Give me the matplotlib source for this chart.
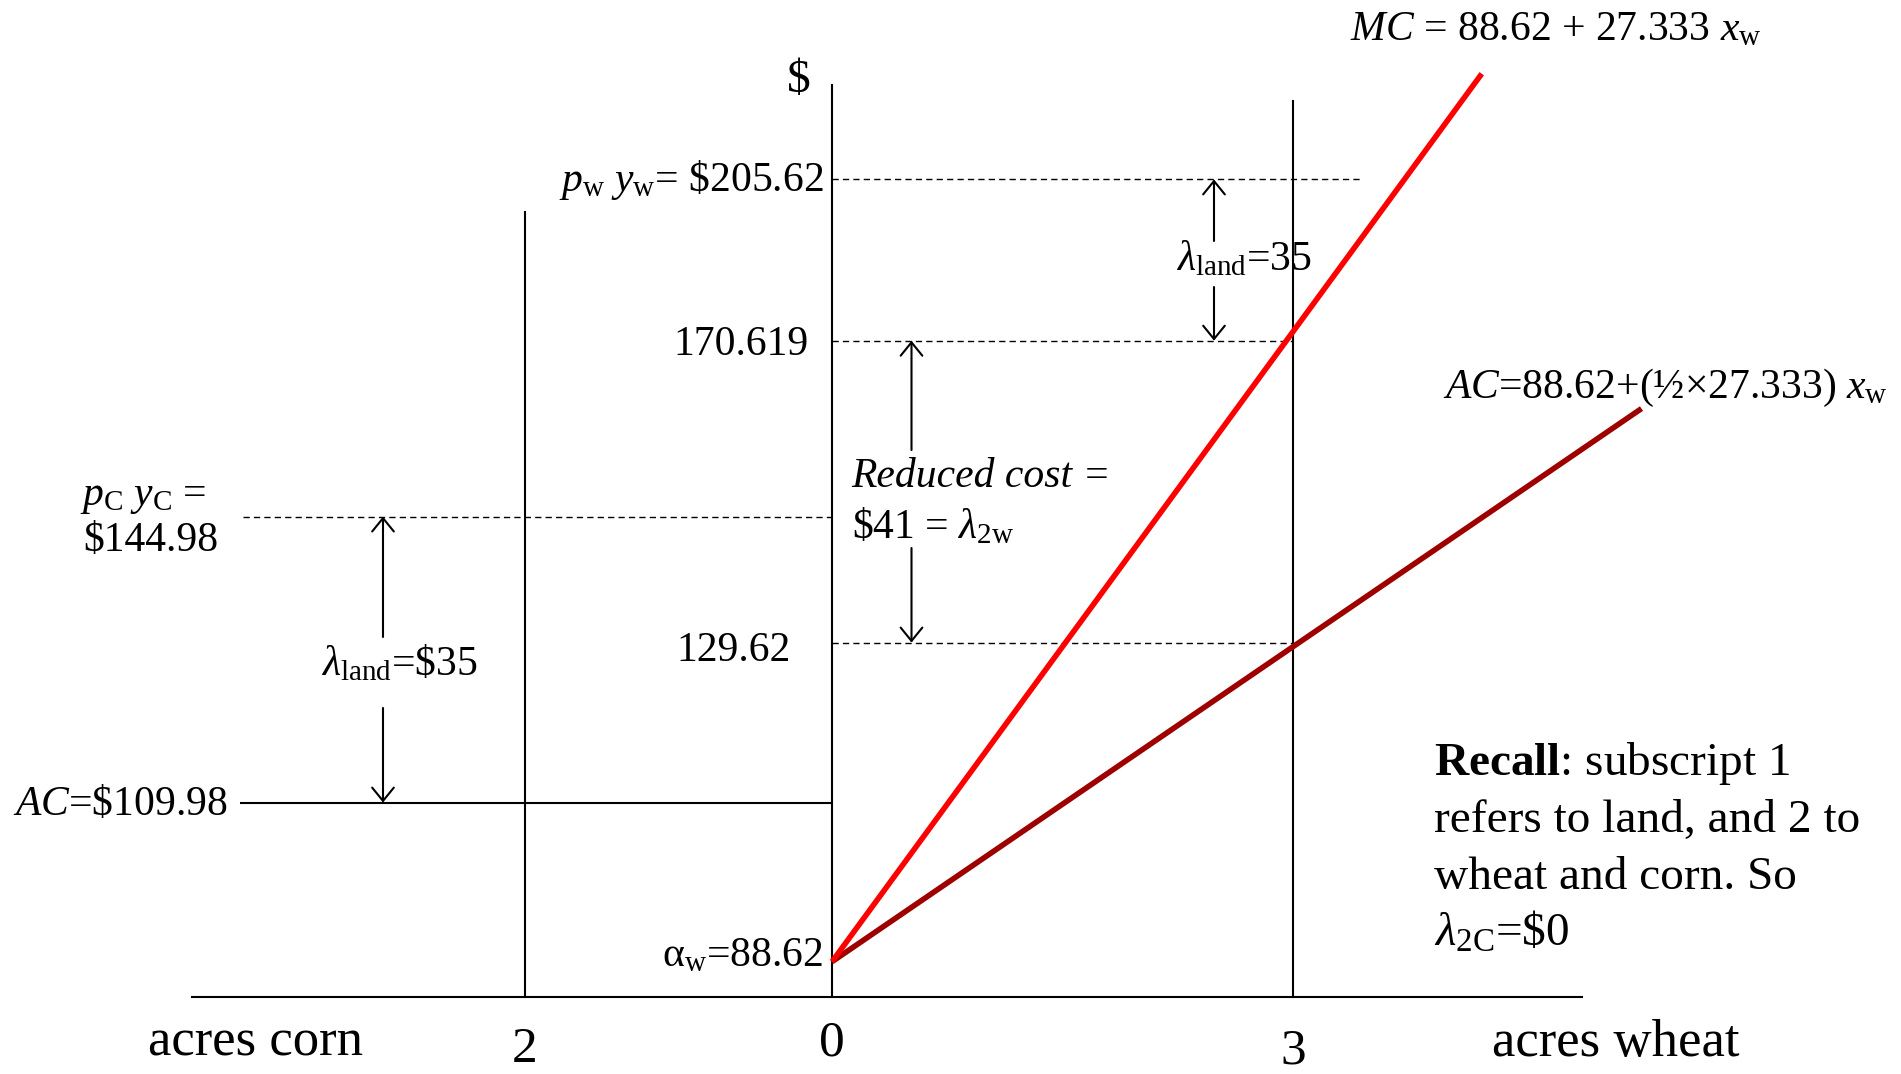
import numpy as np
import matplotlib
matplotlib.use("Agg")
import matplotlib.pyplot as plt
from matplotlib import transforms as mtransforms

plt.rcParams.update({
    "font.family": ["Liberation Serif", "DejaVu Serif"],
    "mathtext.fontset": "custom",
    "mathtext.rm": "Liberation Serif",
    "mathtext.it": "Liberation Serif:italic",
    "mathtext.bf": "Liberation Serif:bold",
})

# ---------------- data ----------------
# wheat cost curves: acres of wheat vs dollars
mc_acres = [0.0, 4.23]
mc_dollars = [88.62, 204.24]          # MC = 88.62 + 27.333 x_w
ac_acres = [0.0, 5.27]
ac_dollars = [88.62, 160.64]          # AC = 88.62 + (1/2 x 27.333) x_w

# dollar levels marked on the $ axis
alpha_w = 88.62
corn_ac = 109.98
ac_wheat_at_3 = 129.62
corn_revenue = 144.98
mc_wheat_at_3 = 170.619
wheat_revenue = 205.62

# acre positions marked on the horizontal axis
corn_acres = 2
wheat_acres = 3
tick_labels = ["2", "0", "3"]

# ---------------- layout ----------------
W, H = 1901, 1074
Y_AXIS_PX = 832.0        # horizontal pixel of the $ axis
PX_PER_ACRE = 153.6
PX_PER_DOLLAR = 7.68     # vertical scale used for the cost lines

# schematic (broken) dollar scale: value -> pixel height above the bottom edge
level_vals = np.array([0.0, alpha_w, corn_ac, ac_wheat_at_3, corn_revenue,
                       mc_wheat_at_3, wheat_revenue])
level_pos = np.array([77.4, 112.3, 271.4, 431.4, 557.5, 733.3, 894.6])


def _piecewise(xs, ys):
    def f(v):
        v = np.asarray(v, dtype=float)
        out = np.interp(v, xs, ys)
        lo_slope = (ys[1] - ys[0]) / (xs[1] - xs[0])
        hi_slope = (ys[-1] - ys[-2]) / (xs[-1] - xs[-2])
        out = np.where(v < xs[0], ys[0] + (v - xs[0]) * lo_slope, out)
        out = np.where(v > xs[-1], ys[-1] + (v - xs[-1]) * hi_slope, out)
        return out
    return f


fwd = _piecewise(level_vals, level_pos)
inv = _piecewise(level_pos, level_vals)


def px_x(p):
    return (p - Y_AXIS_PX) / PX_PER_ACRE


fig = plt.figure(figsize=(W / 100, H / 100), dpi=100)
ax = fig.add_axes([0, 0, 1, 1])
ax.set_xlim(px_x(0), px_x(W))
ax.set_yscale("function", functions=(fwd, inv))
ax.set_ylim(float(inv(0.0)), float(inv(float(H))))
ax.axis("off")

# linear dollar axis for the straight cost lines, anchored at the intercept
ax2 = fig.add_axes([0, 0, 1, 1], sharex=ax)
y0 = float(fwd(alpha_w))
ax2.set_ylim(alpha_w - y0 / PX_PER_DOLLAR, alpha_w + (H - y0) / PX_PER_DOLLAR)
ax2.axis("off")
ax2.patch.set_visible(False)

LW_AX = 1.5
base_frac = float(fwd(0.0)) / H

# axes
ax.axhline(0, xmin=191.6 / W, xmax=1582.2 / W, color="black", lw=LW_AX)
ax.axvline(0, ymin=base_frac, ymax=(H - 85.0) / H, color="black", lw=LW_AX)
ax.axvline(-corn_acres, ymin=base_frac, ymax=(H - 212.0) / H, color="black", lw=LW_AX)
ax.axvline(wheat_acres, ymin=base_frac, ymax=(H - 100.6) / H, color="black", lw=LW_AX)

# dashed dollar levels
dash = (0, (4.5, 3.0))
ax.hlines(wheat_revenue, 0, px_x(1360.3), colors="black", lw=1.0, linestyles=dash)
ax.hlines([mc_wheat_at_3, ac_wheat_at_3], 0, wheat_acres, colors="black", lw=1.0,
          linestyles=dash)
ax.hlines(corn_revenue, px_x(242.5), 0, colors="black", lw=1.0, linestyles=dash)
ax.hlines(corn_ac, px_x(240.0), 0, colors="black", lw=LW_AX)

# cost curves
ax2.plot(ac_acres, ac_dollars, color="#9E0000", lw=4.0, solid_capstyle="butt")
ax2.plot(mc_acres, mc_dollars, color="#FF0000", lw=4.0, solid_capstyle="butt")

# double-headed arrows with a gap for the label
blend = mtransforms.blended_transform_factory(ax.transData, fig.transFigure)
arrow_kw = dict(arrowstyle="->,head_length=0.8,head_width=0.65", lw=1.5,
                color="black", shrinkA=0, shrinkB=0, mutation_scale=12)


def split_arrow(x, top_val, bot_val, gap_top_px, gap_bot_px):
    ax.annotate("", xy=(x, top_val), xycoords="data",
                xytext=(x, 1 - gap_top_px / H), textcoords=blend, arrowprops=arrow_kw)
    ax.annotate("", xy=(x, bot_val), xycoords="data",
                xytext=(x, 1 - gap_bot_px / H), textcoords=blend, arrowprops=arrow_kw)


split_arrow(px_x(1214.0), wheat_revenue, mc_wheat_at_3, 241.0, 287.0)
split_arrow(px_x(911.5), mc_wheat_at_3, ac_wheat_at_3, 450.0, 548.0)
split_arrow(px_x(383.0), corn_revenue, corn_ac, 637.0, 708.0)


# labels tied to dollar levels
def level_label(s, x_px, value, dy_px, ha="right", size=30):
    tr = mtransforms.offset_copy(ax.transData, fig=fig, x=0, y=-dy_px, units="dots")
    ax.text(px_x(x_px), value, s, transform=tr, ha=ha, va="baseline", fontsize=size)


level_label(r"$p_{\rm w}\ y_{\rm w}$= \$%.2f" % wheat_revenue, 823.5, wheat_revenue, 11.6)
level_label("%.3f" % mc_wheat_at_3, 808.7, mc_wheat_at_3, 14.3)
level_label("%.2f" % ac_wheat_at_3, 790.5, ac_wheat_at_3, 18.2)
level_label("α$_{\\rm w}$=%.2f" % alpha_w, 823.0, alpha_w, 5.0)
level_label(r"$AC$=\$%.2f" % corn_ac, 13.3, corn_ac, 12.4, ha="left")
level_label(r"$p_{\rm C}\ y_{\rm C}$ =", 80.5, corn_revenue, -11.5, ha="left")
level_label(r"\$%.2f" % corn_revenue, 83.0, corn_revenue, 34.2, ha="left")


def fig_text(s, x_px, y_px, ha="left", va="baseline", size=30, **kw):
    fig.text(x_px / W, 1 - y_px / H, s, ha=ha, va=va, fontsize=size, **kw)


fig_text(r"\$", 799.0, 81.0, ha="center", va="center", size=34)
fig_text(r"$MC$ = 88.62 + 27.333 $x_{\rm w}$", 1350.0, 40.0)
fig_text(r"$AC$=88.62+(½×27.333) $x_{\rm w}$", 1443.0, 398.0)
fig_text(r"$\lambda_{\rm land}$=35", 1244.0, 270.0, ha="center")
fig_text(r"$\lambda_{\rm land}$=\$35", 399.0, 675.0, ha="center")
fig_text("Reduced cost =", 851.7, 486.7, style="italic")
fig_text(r"\$41 = $\lambda_{\rm 2w}$", 851.7, 538.0)

recall_lines = [r"$\mathbf{Recall}$: subscript 1", "refers to land, and 2 to",
                "wheat and corn. So", r"$\lambda_{\rm 2C}$=\$0"]
for i, line in enumerate(recall_lines):
    fig_text(line, 1434.5, 775.0 + 57.0 * i, size=34)

# horizontal axis labels
fig_text("acres corn", 255.8, 1056.0, ha="center", size=38)
fig_text("acres wheat", 1616.0, 1056.0, ha="center", size=38)
tick_x = [-corn_acres, 0, wheat_acres]
tick_base = [1062.0, 1056.0, 1063.0]
for lbl, tx, tb in zip(tick_labels, tick_x, tick_base):
    ax.text(tx, 1 - tb / H, lbl, transform=blend, ha="center", va="baseline", fontsize=37)

fig.savefig("out.png", dpi=100)
